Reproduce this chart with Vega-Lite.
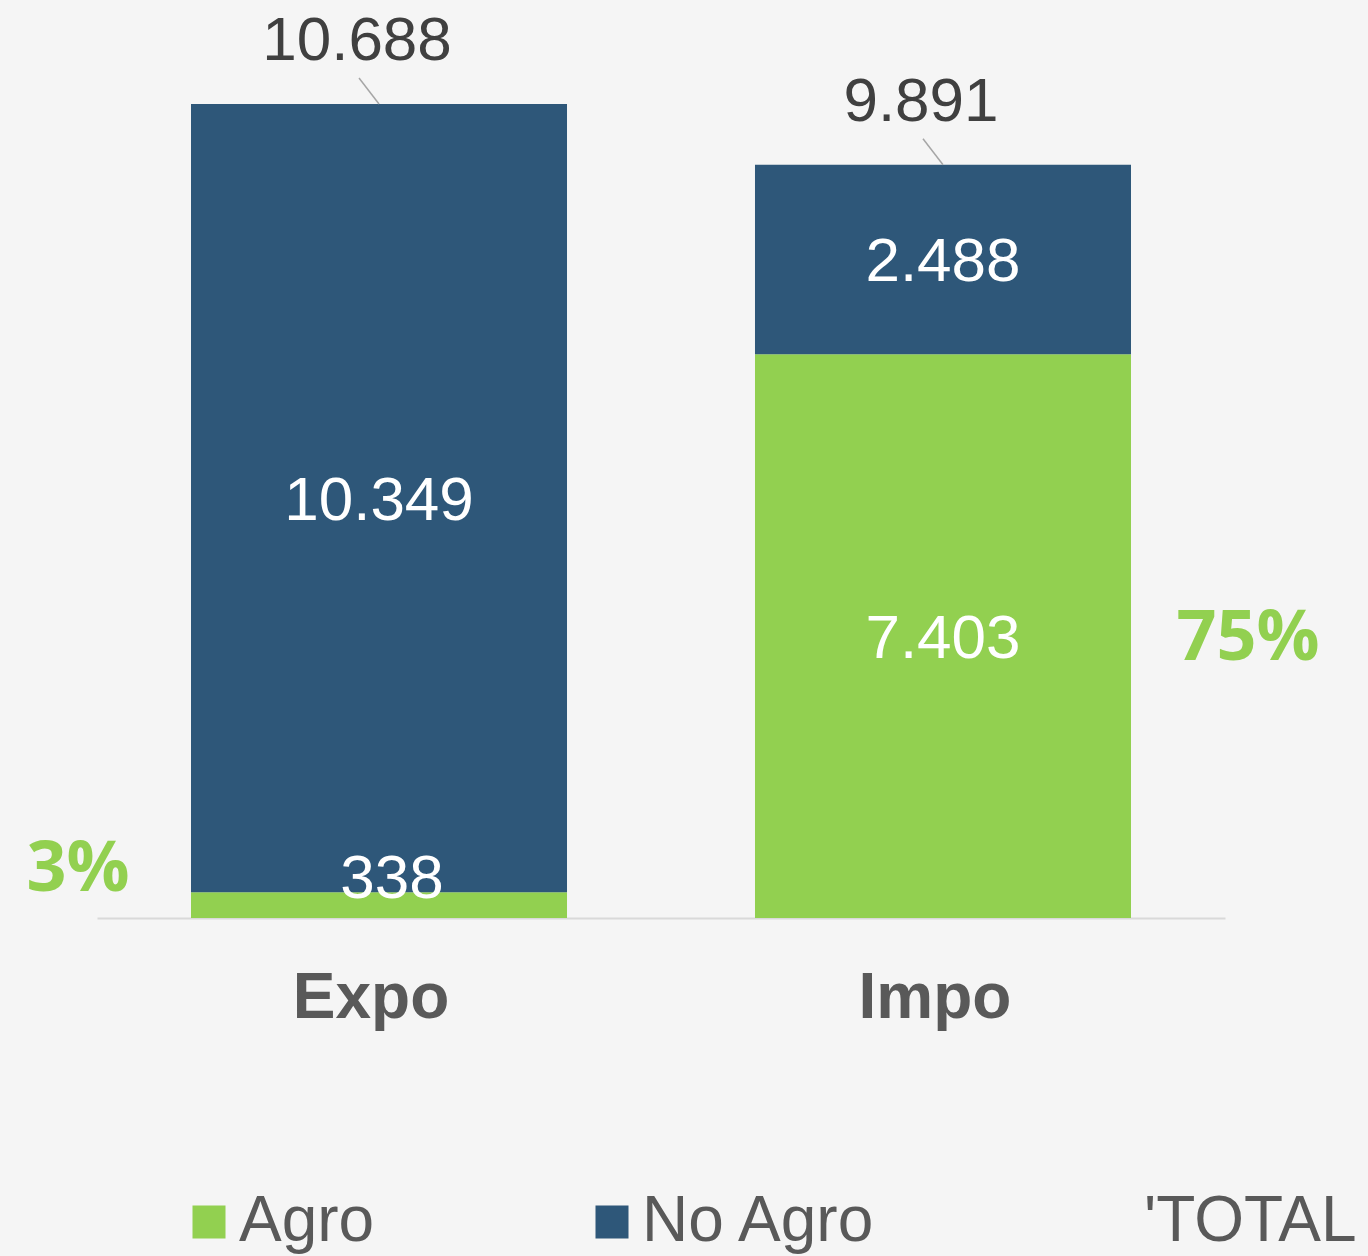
{
  "$schema": "https://vega.github.io/schema/vega-lite/v6.json",
  "width": 1128,
  "height": 918,
  "autosize": {"type": "none"},
  "padding": {"left": 97, "top": 0, "right": 143, "bottom": 338},
  "background": "#f5f5f5",
  "config": {"view": {"stroke": null}, "font": "Liberation Sans"},
  "datasets": {
    "bars": [
      {"cat": "Expo", "series": "Agro", "value": 338, "label": "338", "share": "3%"},
      {"cat": "Expo", "series": "No Agro", "value": 10349, "label": "10.349", "share": ""},
      {"cat": "Impo", "series": "Agro", "value": 7403, "label": "7.403", "share": "75%"},
      {"cat": "Impo", "series": "No Agro", "value": 2488, "label": "2.488", "share": ""}
    ],
    "totals": [
      {"cat": "Expo", "total": 10688, "label": "10.688"},
      {"cat": "Impo", "total": 9891, "label": "9.891"}
    ]
  },
  "encoding": {
    "x": {
      "field": "cat",
      "type": "nominal",
      "scale": {"paddingInner": 0.3333, "paddingOuter": 0.16667},
      "axis": {
        "title": null,
        "labelAngle": 0,
        "labelFont": "Liberation Sans",
        "labelFontSize": 64,
        "labelFontWeight": "bold",
        "labelColor": "#595959",
        "labelPadding": 48,
        "labelOffset": -8,
        "ticks": false,
        "domainColor": "#d9d9d9",
        "domainWidth": 2
      }
    }
  },
  "layer": [
    {
      "data": {"name": "bars"},
      "mark": {"type": "bar"},
      "encoding": {
        "y": {"field": "value", "type": "quantitative", "stack": "zero", "scale": {"domain": [0, 12054], "nice": false}, "axis": null},
        "color": {
          "field": "series",
          "type": "nominal",
          "scale": {"domain": ["Agro", "No Agro", "'TOTAL"], "range": ["#92d050", "#2e5779", "rgba(0,0,0,0)"]},
          "legend": {
            "title": null,
            "orient": "none",
            "legendX": 80,
            "legendY": 1190,
            "direction": "horizontal",
            "columnPadding": 205,
            "symbolType": "square",
            "symbolSize": 1089,
            "symbolStrokeWidth": 0,
            "labelFont": "Liberation Sans",
            "labelFontSize": 64,
            "labelColor": "#595959",
            "labelOffset": -2,
            "labelLimit": 500,
            "padding": 0
          }
        },
        "order": {"field": "series", "sort": "ascending"}
      }
    },
    {
      "data": {"name": "bars"},
      "mark": {"type": "text", "color": "white", "fontSize": 62, "baseline": "middle", "font": "Liberation Sans", "dy": 3},
      "encoding": {
        "y": {"field": "value", "type": "quantitative", "stack": "zero", "bandPosition": 0.5, "scale": {"domain": [0, 12054], "nice": false}, "axis": null},
        "detail": {"field": "series"},
        "order": {"field": "series", "sort": "ascending"},
        "text": {"condition": {"test": "datum.value >= 1000", "field": "label", "type": "nominal"}, "value": ""}
      }
    },
    {
      "data": {"name": "bars"},
      "mark": {"type": "text", "color": "white", "fontSize": 62, "baseline": "middle", "font": "Liberation Sans", "dx": 13, "dy": -26},
      "encoding": {
        "y": {"field": "value", "type": "quantitative", "stack": "zero", "bandPosition": 0.5, "scale": {"domain": [0, 12054], "nice": false}, "axis": null},
        "detail": {"field": "series"},
        "order": {"field": "series", "sort": "ascending"},
        "text": {"condition": {"test": "datum.value < 1000", "field": "label", "type": "nominal"}, "value": ""}
      }
    },
    {
      "data": {"name": "bars"},
      "mark": {"type": "text", "color": "#92d050", "fontSize": 70, "fontWeight": "bold", "baseline": "middle", "font": "Open Sans", "dx": -301, "dy": -35},
      "encoding": {
        "y": {"field": "value", "type": "quantitative", "stack": "zero", "bandPosition": 0.5, "scale": {"domain": [0, 12054], "nice": false}, "axis": null},
        "detail": {"field": "series"},
        "order": {"field": "series", "sort": "ascending"},
        "text": {"condition": {"test": "datum.cat == 'Expo' && datum.series == 'Agro'", "field": "share", "type": "nominal"}, "value": ""}
      }
    },
    {
      "data": {"name": "bars"},
      "mark": {"type": "text", "color": "#92d050", "fontSize": 70, "fontWeight": "bold", "baseline": "middle", "font": "Open Sans", "dx": 305, "dy": 3},
      "encoding": {
        "y": {"field": "value", "type": "quantitative", "stack": "zero", "bandPosition": 0.5, "scale": {"domain": [0, 12054], "nice": false}, "axis": null},
        "detail": {"field": "series"},
        "order": {"field": "series", "sort": "ascending"},
        "text": {"condition": {"test": "datum.cat == 'Impo' && datum.series == 'Agro'", "field": "share", "type": "nominal"}, "value": ""}
      }
    },
    {
      "data": {"name": "totals"},
      "mark": {"type": "rule", "color": "#a6a6a6", "strokeWidth": 1.5, "x2Offset": -20, "y2Offset": -26},
      "encoding": {
        "y": {"field": "total", "type": "quantitative", "scale": {"domain": [0, 12054], "nice": false}, "axis": null},
        "x2": {"field": "cat"},
        "y2": {"field": "total"}
      }
    },
    {
      "data": {"name": "totals"},
      "mark": {"type": "text", "color": "#404040", "fontSize": 62, "baseline": "middle", "font": "Liberation Sans", "dx": -22, "dy": -63},
      "encoding": {
        "y": {"field": "total", "type": "quantitative", "scale": {"domain": [0, 12054], "nice": false}, "axis": null},
        "text": {"field": "label", "type": "nominal"}
      }
    }
  ]
}
